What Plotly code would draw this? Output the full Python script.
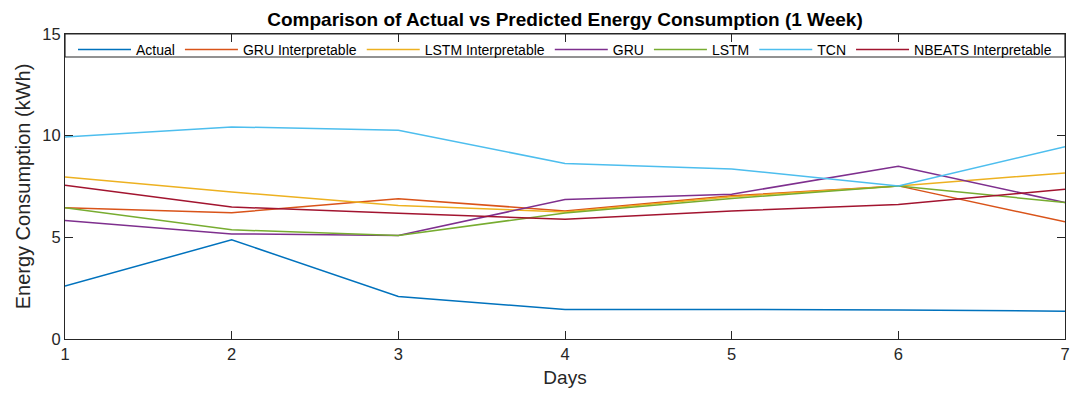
import plotly.graph_objects as go

days = [1, 2, 3, 4, 5, 6, 7]
series_names = ["Actual", "GRU Interpretable", "LSTM Interpretable", "GRU", "LSTM", "TCN", "NBEATS Interpretable"]
actual = [2.60, 4.88, 2.09, 1.45, 1.45, 1.43, 1.37]
gru_interp = [6.46, 6.21, 6.90, 6.30, 7.04, 7.53, 5.76]
lstm_interp = [7.97, 7.23, 6.57, 6.25, 6.99, 7.53, 8.17]
gru = [5.83, 5.17, 5.09, 6.86, 7.12, 8.50, 6.71]
lstm = [6.46, 5.37, 5.09, 6.20, 6.91, 7.53, 6.71]
tcn = [9.94, 10.43, 10.27, 8.63, 8.36, 7.53, 9.46]
nbeats = [7.56, 6.49, 6.19, 5.89, 6.30, 6.61, 7.37]
colors = ["#0072BD", "#D95319", "#EDB120", "#7E2F8E", "#77AC30", "#4DBEEE", "#A2142F"]

all_series = [actual, gru_interp, lstm_interp, gru, lstm, tcn, nbeats]

fig = go.Figure()
for name, vals, c in zip(series_names, all_series, colors):
    fig.add_trace(go.Scatter(x=days, y=vals, mode="lines", name=name,
                             line=dict(color=c, width=1.5)))

font = "Liberation Sans, Arial, sans-serif"
axis_common = dict(showline=True, linecolor="#262626", linewidth=1.2, mirror="ticks",
                   ticks="inside", ticklen=8, tickcolor="#262626", showgrid=False,
                   zeroline=False, automargin=False,
                   tickfont=dict(size=16.5, color="#262626", family=font))

fig.update_layout(
    width=1085, height=401,
    margin=dict(l=57, r=28, t=26, b=70),
    paper_bgcolor="white", plot_bgcolor="white",
    title=dict(text="<b>Comparison of Actual vs Predicted Energy Consumption (1 Week)</b>",
               x=(565 - 8) / 1085, xanchor="center", y=1 - 11 / 401, yanchor="middle",
               font=dict(size=19, color="black", family=font)),
    xaxis=dict(range=[1, 7], tickvals=days,
               title=dict(text="Days", font=dict(size=19, color="#262626", family=font), standoff=8),
               **axis_common),
    yaxis=dict(range=[0, 15], tickvals=[0, 5, 10, 15],
               title=dict(text="Energy Consumption (kWh)", font=dict(size=20, color="#262626", family=font), standoff=6),
               **axis_common),
    legend=dict(orientation="h", x=0.5, xanchor="center", y=1.0, yanchor="top",
                bgcolor="rgba(0,0,0,0)", font=dict(size=14, color="black", family=font),
                itemwidth=53, tracegroupgap=0),
    showlegend=True,
    shapes=[dict(type="rect", xref="paper", yref="paper", x0=0, x1=1, y0=1 - 23 / 305, y1=1,
                 line=dict(color="#262626", width=1.2), fillcolor="white", layer="below")],
)

fig.write_html("out.html")
